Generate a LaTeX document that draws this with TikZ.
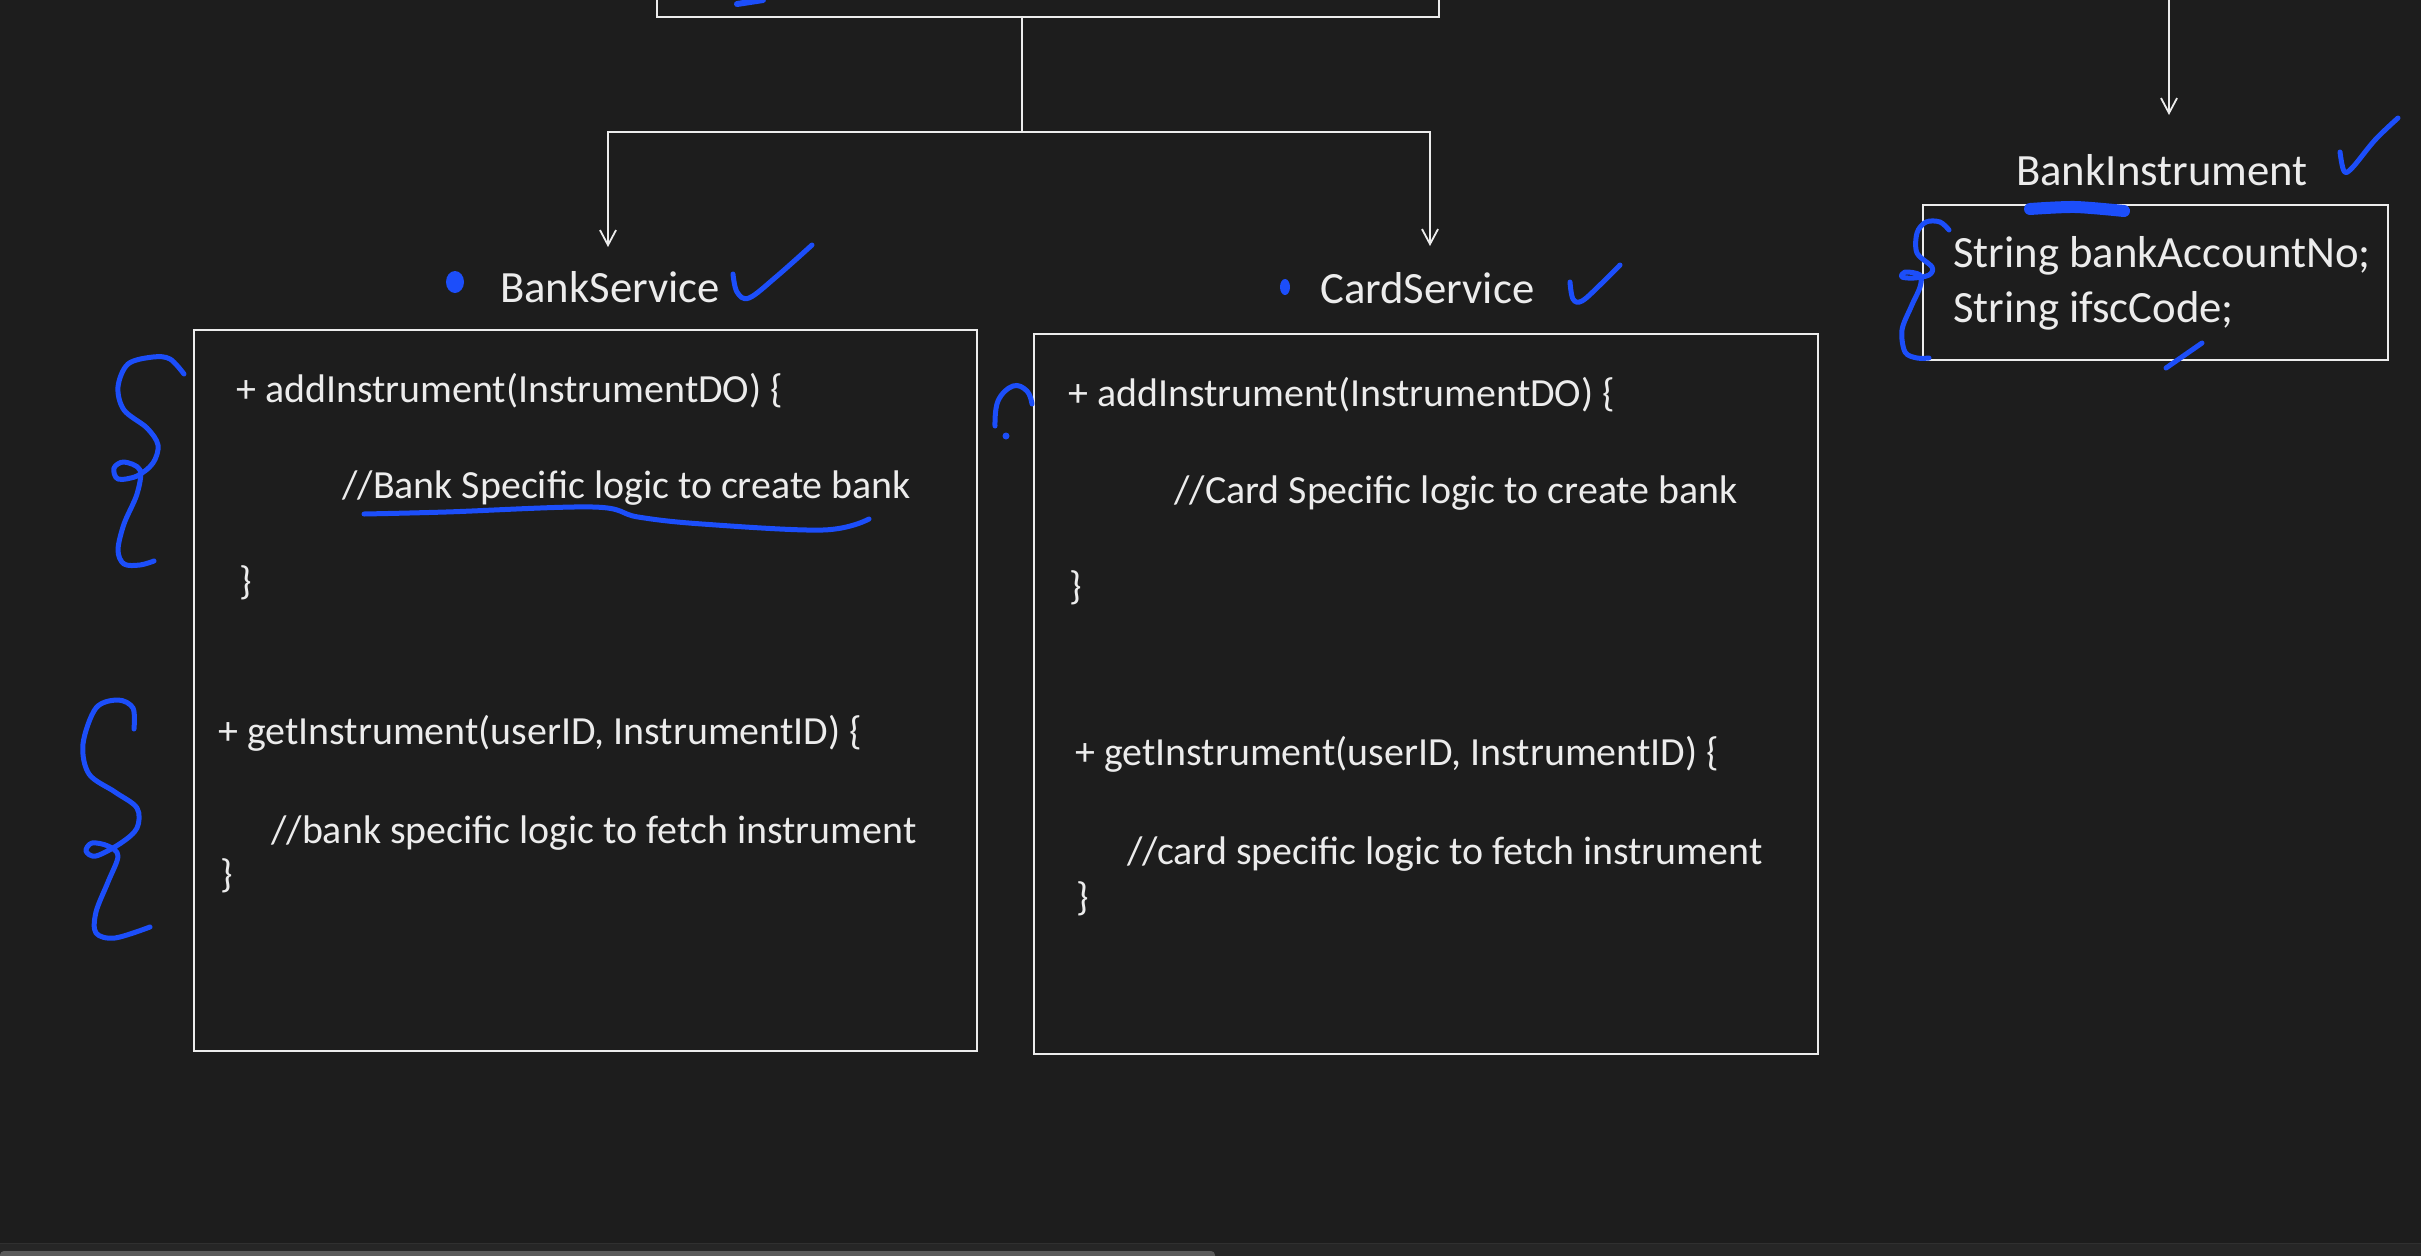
\documentclass[tikz,border=0pt]{standalone}
\usepackage{fontspec}
\setmainfont{Carlito}
\usetikzlibrary{arrows.meta}
\definecolor{bg}{RGB}{29,29,29}
\definecolor{fg}{RGB}{236,236,236}
\definecolor{pen}{RGB}{28,78,250}
\definecolor{sbline}{RGB}{48,48,48}
\definecolor{sbband}{RGB}{38,38,38}
\definecolor{sbthumb}{RGB}{90,90,90}
\tikzset{
  box/.style={draw=fg, line width=2.2pt, anchor=north west, inner sep=0pt},
  conn/.style={draw=fg, line width=1.8pt},
  arr/.style={conn, -{Straight Barb[length=15pt,width=16pt,line width=1.8pt]}},
  code/.style={anchor=base west, text=fg, inner sep=0pt, font=\fontsize{39.9}{47}\selectfont},
  title/.style={anchor=base west, text=fg, inner sep=0pt, font=\fontsize{44.7}{53}\selectfont},
  ink/.style={draw=pen, line width=5pt, line cap=round, line join=round},
}
\begin{document}
\begin{tikzpicture}[x=1pt,y=-1pt]
\useasboundingbox (0,0) rectangle (2421,1256);
\fill[bg] (0,0) rectangle (2421,1256);
\clip (0,0) rectangle (2421,1256);

% top (cut off) box
\node[box, minimum width=782pt, minimum height=60pt] (topbox) at (656,-44) {};
\draw[ink, line width=6pt] (737,4) -- (763,0);

% connectors
\coordinate (split) at (1022,132);
\coordinate (bankin) at (608,247);
\coordinate (cardin) at (1430,246);
\coordinate (bitop) at (2169,-5);
\coordinate (biin) at (2169,115);
\draw[conn] (topbox.south -| split) -- (split);
\draw[arr] (split) -| (bankin);
\draw[arr] (split) -| (cardin);
\draw[arr] (bitop) -- (biin);

% titles
\node[title] (banktitle) at (500,302) {BankService};
\node[title] (cardtitle) at (1320,303) {CardService};
\node[title] (bititle) at (2016,185) {BankInstrument};

% boxes
\node[box, minimum width=783pt, minimum height=721pt] (bankbox) at (193,329) {};
\node[box, minimum width=784pt, minimum height=720pt] (cardbox) at (1033,333) {};
\node[box, minimum width=465pt, minimum height=155pt] (bibox) at (1922,204) {};

% BankService code
\node[code] (b1) at (236,402) {+ addInstrument(InstrumentDO) \{};
\node[code] (b2) at (342,498) {//Bank Specific logic to create bank};
\node[code] (b3) at (239,594) {\}};
\node[code] (b4) at (218,744) {+ getInstrument(userID, InstrumentID) \{};
\node[code] (b5) at (271,843) {//bank specific logic to fetch instrument};
\node[code] (b6) at (220,887) {\}};

% CardService code
\node[code] (c1) at (1068,406) {+ addInstrument(InstrumentDO) \{};
\node[code] (c2) at (1174,503) {//Card Specific logic to create bank};
\node[code] (c3) at (1069,599) {\}};
\node[code] (c4) at (1075,765) {+ getInstrument(userID, InstrumentID) \{};
\node[code] (c5) at (1127,864) {//card specific logic to fetch instrument};
\node[code] (c6) at (1076,910) {\}};

% BankInstrument fields
\node[title] (f1) at (1953,267) {String bankAccountNo;};
\node[title] (f2) at (1953,322) {String ifscCode;};

% blue annotations
\fill[pen] (455,282) ellipse [x radius=9pt, y radius=11pt];
\fill[pen] (1285,287) ellipse [x radius=5pt, y radius=8pt];
\draw[ink] plot[smooth, tension=0.6] coordinates {(733,274) (737,292) (749,298) (776,277) (812,245)};
\draw[ink] plot[smooth, tension=0.6] coordinates {(1570,282) (1573,299) (1582,301) (1601,284) (1620,265)};
\draw[ink] plot[smooth, tension=0.6] coordinates {(2340,152) (2344,171) (2352,168) (2375,140) (2398,118)};
\draw[ink, line width=12pt] plot[smooth] coordinates {(2030,209) (2075,207) (2124,211)};
\draw[ink] (2166,368) -- (2202,343);

\draw[ink] plot[smooth, tension=0.55] coordinates {
 (184,374) (170,359) (153,357) (128,364) (118,387) (124,410) (147,428) (158,445)
 (153,463) (137,476) (118,479) (114,468) (124,462) (140,470) (137,494) (124,524)
 (118,550) (124,564) (140,565) (154,561)};
\draw[ink] plot[smooth, tension=0.55] coordinates {
 (134,729) (133,708) (118,700) (96,708) (83,744) (89,774) (115,792) (137,808)
 (137,828) (121,843) (96,856) (86,851) (92,843) (108,846) (118,856) (108,882)
 (96,912) (96,933) (115,938) (150,927)};
\draw[ink] plot[smooth, tension=0.55] coordinates {
 (1949,230) (1940,222) (1926,222) (1917,233) (1917,253) (1932,267) (1929,275)
 (1914,278) (1902,277) (1905,272) (1920,275) (1920,287) (1911,307) (1902,330)
 (1905,352) (1917,358) (1929,358)};
\draw[ink] plot[smooth, tension=0.6] coordinates {
 (364,514) (446,512) (593,507) (638,517) (702,524) (823,530) (869,519)};
\draw[ink] plot[smooth, tension=0.7] coordinates {(995,426) (998,401) (1013,386) (1027,391) (1032,404)};
\fill[pen] (1006,436) circle (3.5pt);

% scrollbar
\fill[sbband] (0,1244) rectangle (2421,1256);
\draw[sbline, line width=1.5pt] (0,1243.5) -- (2421,1243.5);
\fill[sbthumb, rounded corners=4pt] (0,1251) rectangle (1215,1264);
\end{tikzpicture}
\end{document}
